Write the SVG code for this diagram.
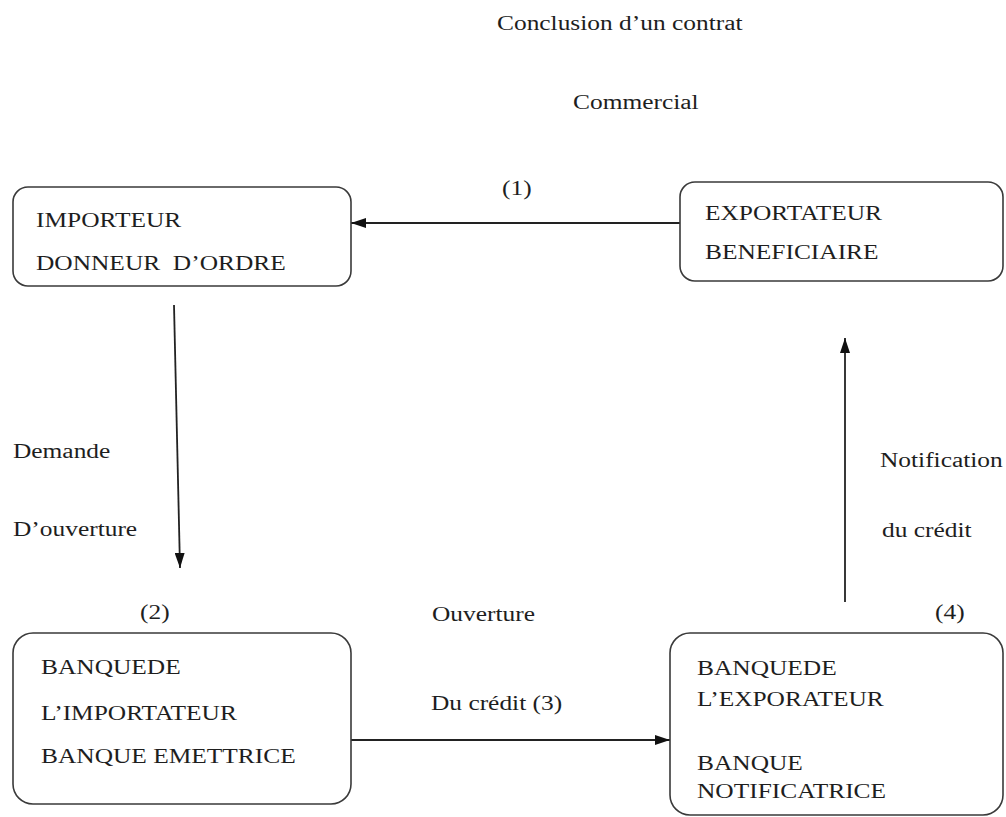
<svg xmlns="http://www.w3.org/2000/svg" width="1006" height="817" viewBox="0 0 1006 817">
  <style>
    .box { fill: #ffffff; stroke: #3a3a3a; stroke-width: 1.6; }
    .link { fill: none; stroke: #222222; stroke-width: 1.8; }
    text { font-family: "Liberation Serif", "Times New Roman", serif; font-size: 20px; fill: #1e1e1e; white-space: pre; }
  </style>
  <defs>
    <marker id="head" markerUnits="userSpaceOnUse" markerWidth="15" markerHeight="10" refX="15" refY="5" orient="auto">
      <path d="M0,0 L15,5 L0,10 z" fill="#111111"/>
    </marker>
  </defs>

  <rect width="1006" height="817" fill="#ffffff"/>

  <!-- free labels -->
  <g id="labels">
    <text transform="matrix(1.27 0 0 1 497 30)">Conclusion d’un contrat</text>
    <text transform="matrix(1.27 0 0 1 573 109)">Commercial</text>
    <text transform="matrix(1.27 0 0 1 502 195)">(1)</text>
    <text transform="matrix(1.27 0 0 1 13 458)">Demande</text>
    <text transform="matrix(1.27 0 0 1 13 536)">D’ouverture</text>
    <text transform="matrix(1.27 0 0 1 140 619)">(2)</text>
    <text transform="matrix(1.27 0 0 1 432 621)">Ouverture</text>
    <text transform="matrix(1.27 0 0 1 431 710)">Du crédit (3)</text>
    <text transform="matrix(1.27 0 0 1 880 467)">Notification</text>
    <text transform="matrix(1.27 0 0 1 882 537)">du crédit</text>
    <text transform="matrix(1.27 0 0 1 935 619)">(4)</text>
  </g>

  <!-- connectors -->
  <g id="connectors">
    <line class="link" x1="680" y1="223" x2="351" y2="223" marker-end="url(#head)"/>
    <line class="link" x1="174" y1="305" x2="180" y2="568" marker-end="url(#head)"/>
    <line class="link" x1="845" y1="602" x2="845" y2="338" marker-end="url(#head)"/>
    <line class="link" x1="351" y1="740" x2="670" y2="740" marker-end="url(#head)"/>
  </g>

  <g id="importeur">
    <rect class="box" x="13" y="187" width="338" height="99" rx="15" ry="15"/>
    <text transform="matrix(1.27 0 0 1 36 227)">IMPORTEUR</text>
    <text xml:space="preserve" transform="matrix(1.27 0 0 1 36 270)">DONNEUR  D’ORDRE</text>
  </g>

  <g id="exportateur">
    <rect class="box" x="680" y="182" width="323" height="99" rx="15" ry="15"/>
    <text transform="matrix(1.27 0 0 1 705 220)">EXPORTATEUR</text>
    <text transform="matrix(1.27 0 0 1 705 259)">BENEFICIAIRE</text>
  </g>

  <g id="banque-emettrice">
    <rect class="box" x="13" y="633" width="338" height="171" rx="20" ry="20"/>
    <text transform="matrix(1.27 0 0 1 41 674)">BANQUEDE</text>
    <text transform="matrix(1.27 0 0 1 41 720)">L’IMPORTATEUR</text>
    <text transform="matrix(1.27 0 0 1 41 763)">BANQUE EMETTRICE</text>
  </g>

  <g id="banque-notificatrice">
    <rect class="box" x="670" y="633" width="333" height="182" rx="20" ry="20"/>
    <text transform="matrix(1.27 0 0 1 697 675)">BANQUEDE</text>
    <text transform="matrix(1.27 0 0 1 697 706)">L’EXPORATEUR</text>
    <text transform="matrix(1.27 0 0 1 697 770)">BANQUE</text>
    <text transform="matrix(1.27 0 0 1 697 798)">NOTIFICATRICE</text>
  </g>
</svg>
